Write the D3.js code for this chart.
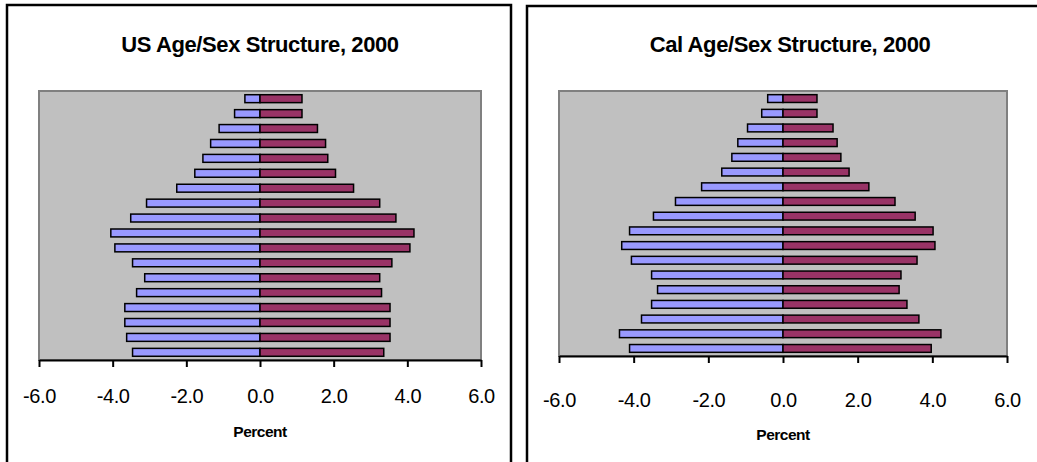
<!DOCTYPE html>
<html>
<head>
<meta charset="utf-8">
<script src="https://cdn.jsdelivr.net/npm/d3@7"></script>
<style>
  html, body { margin: 0; padding: 0; background: #fff; }
  svg { display: block; font-family: "Liberation Sans", Arial, sans-serif; }
</style>
</head>
<body>
<svg width="1037" height="462"></svg>
<script>
// age groups, youngest first (drawn at the bottom)
const ageGroups = ["0-4", "5-9", "10-14", "15-19", "20-24", "25-29", "30-34", "35-39", "40-44",
    "45-49", "50-54", "55-59", "60-64", "65-69", "70-74", "75-79", "80-84", "85+"];

// percent of total population
const usMale = [3.46, 3.62, 3.67, 3.67, 3.35, 3.13, 3.46, 3.94, 4.05, 3.51, 3.08, 2.26, 1.77, 1.55, 1.34, 1.11, 0.69, 0.41];
const usFemale = [3.36, 3.53, 3.53, 3.53, 3.30, 3.25, 3.58, 4.07, 4.18, 3.69, 3.25, 2.54, 2.05, 1.84, 1.78, 1.56, 1.14, 1.14];
const calMale = [4.11, 4.38, 3.79, 3.52, 3.36, 3.52, 4.06, 4.32, 4.11, 3.47, 2.88, 2.18, 1.64, 1.37, 1.21, 0.95, 0.57, 0.41];
const calFemale = [3.97, 4.23, 3.64, 3.32, 3.11, 3.16, 3.59, 4.07, 4.02, 3.54, 3.00, 2.30, 1.77, 1.55, 1.45, 1.34, 0.91, 0.91];

const xTicks = [-6, -4, -2, 0, 2, 4, 6];

const maleColor = "#9999FF";
const femaleColor = "#993366";

const svg = d3.select("svg");

// outer chart frames
svg.append("rect")
    .attr("x", 7).attr("y", 5).attr("width", 504).attr("height", 480)
    .attr("fill", "#fff").attr("stroke", "#000").attr("stroke-width", 2.5);
svg.append("rect")
    .attr("x", 527).attr("y", 6).attr("width", 540).attr("height", 480)
    .attr("fill", "#fff").attr("stroke", "#000").attr("stroke-width", 2.5);

function drawPyramid(opts) {
    const {title, male, female, left, right, top, bottom, titleX, tickBase, labelBase} = opts;

    const g = svg.append("g");

    const x = d3.scaleLinear().domain([-6, 6]).range([left, right]);
    const y = d3.scaleBand()
        .domain(ageGroups)
        .range([bottom, top])
        .paddingInner(0.47)
        .paddingOuter(0.25);

    g.append("text")
        .attr("x", titleX)
        .attr("y", 52)
        .attr("text-anchor", "middle")
        .attr("font-size", 22)
        .attr("font-weight", "bold")
        .attr("letter-spacing", -0.4)
        .text(title);

    // plot area
    g.append("rect")
        .attr("x", left).attr("y", top)
        .attr("width", right - left).attr("height", bottom - top)
        .attr("fill", "#C0C0C0")
        .attr("stroke", "#808080")
        .attr("stroke-width", 2);

    const rows = ageGroups.map((a, i) => ({age: a, m: male[i], f: female[i]}));

    g.append("g").selectAll("rect")
        .data(rows)
        .join("rect")
        .attr("x", d => x(-d.m))
        .attr("y", d => y(d.age))
        .attr("width", d => x(0) - x(-d.m))
        .attr("height", y.bandwidth())
        .attr("fill", maleColor)
        .attr("stroke", "#000")
        .attr("stroke-width", 1.5);

    g.append("g").selectAll("rect")
        .data(rows)
        .join("rect")
        .attr("x", x(0))
        .attr("y", d => y(d.age))
        .attr("width", d => x(d.f) - x(0))
        .attr("height", y.bandwidth())
        .attr("fill", femaleColor)
        .attr("stroke", "#000")
        .attr("stroke-width", 1.5);

    const axis = g.append("g")
        .attr("transform", `translate(0,${bottom})`)
        .call(d3.axisBottom(x)
            .tickValues(xTicks)
            .tickSize(7)
            .tickSizeOuter(0)
            .tickFormat(d => d.toFixed(1)));

    axis.select(".domain").attr("stroke", "#000").attr("stroke-width", 2);
    axis.selectAll(".tick line").attr("stroke", "#000").attr("stroke-width", 2);
    axis.selectAll(".tick text")
        .attr("y", tickBase - bottom)
        .attr("dy", 0)
        .attr("fill", "#000")
        .attr("font-size", 20)
        .attr("letter-spacing", -0.4)
        .attr("font-family", "\"Liberation Sans\", Arial, sans-serif");

    g.append("text")
        .attr("x", x(0))
        .attr("y", labelBase)
        .attr("text-anchor", "middle")
        .attr("font-size", 15.5)
        .attr("font-weight", "bold")
        .attr("letter-spacing", -0.5)
        .text("Percent");
}

drawPyramid({
    title: "US Age/Sex Structure, 2000",
    male: usMale, female: usFemale,
    left: 39, right: 481, top: 91, bottom: 360,
    titleX: 260, tickBase: 403, labelBase: 437
});

drawPyramid({
    title: "Cal Age/Sex Structure, 2000",
    male: calMale, female: calFemale,
    left: 559, right: 1007, top: 91, bottom: 356,
    titleX: 790, tickBase: 407, labelBase: 440
});
</script>
</body>
</html>
